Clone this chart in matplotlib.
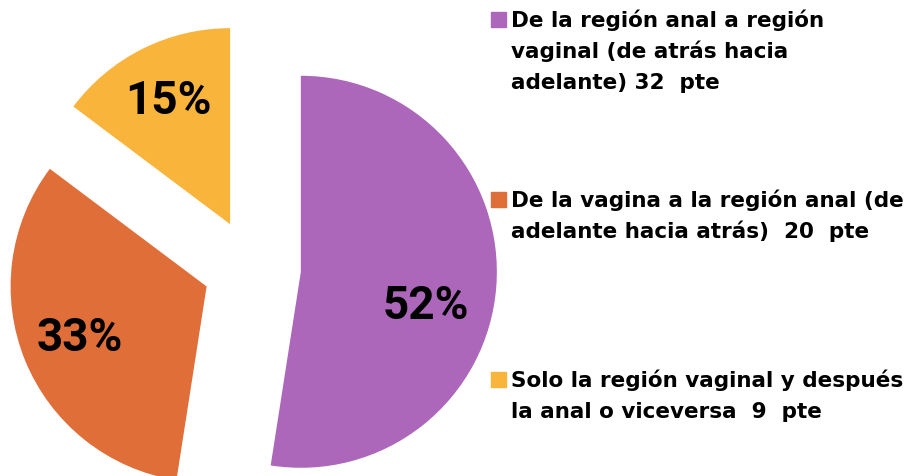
import matplotlib
matplotlib.use("Agg")
import matplotlib.pyplot as plt
from matplotlib.patches import Rectangle

# categories (legend text) and patient counts
categories = [
    "De la región anal a región\nvaginal (de atrás hacia\nadelante) ",
    "De la vagina a la región anal (de\nadelante hacia atrás)  ",
    "Solo la región vaginal y después\nla anal o viceversa  ",
]
patients = [32, 20, 9]
colors = ["#AC67BB", "#DF6E39", "#F9B53B"]

plt.rcParams["font.family"] = ["Roboto", "DejaVu Sans"]

W, H, dpi = 909, 476, 100
fig = plt.figure(figsize=(W / dpi, H / dpi), dpi=dpi)
ax = fig.add_axes([0, 0, 1, 1])

# pie centre and radius in pixels
cx, cy, r = 252, 268, 196

wedges, texts, autotexts = ax.pie(
    patients, colors=colors, startangle=90, counterclock=False,
    explode=[0.25] * len(patients), autopct="%1.0f%%", pctdistance=0.7,
    textprops={"fontsize": 33, "fontweight": "bold", "color": "black"})
# nudge the big label a little down and left, like the original
px, py = autotexts[0].get_position()
autotexts[0].set_position((px - 0.06, py - 0.12))

ax.set_xlim((0 - cx) / r, (W - cx) / r)
ax.set_ylim((cy - H) / r, cy / r)
ax.set_aspect("equal")
ax.axis("off")

# legend drawn by hand so the square sits on the first line
top = [11, 191, 371]
pitch = 31
for cat, n, c, y in zip(categories, patients, colors, top):
    fig.patches.append(Rectangle((491 / W, 1 - (y + 16) / H), 15 / W, 15 / H,
                                 transform=fig.transFigure, color=c))
    lines = (cat + "%d  pte" % n).split("\n")
    for i, line in enumerate(lines):
        fig.text(511 / W, 1 - (y + 16 + i * pitch) / H, line, fontsize=15.5,
                 fontweight="bold", family="DejaVu Sans", va="baseline",
                 ha="left")

fig.savefig("out.png", dpi=dpi)
